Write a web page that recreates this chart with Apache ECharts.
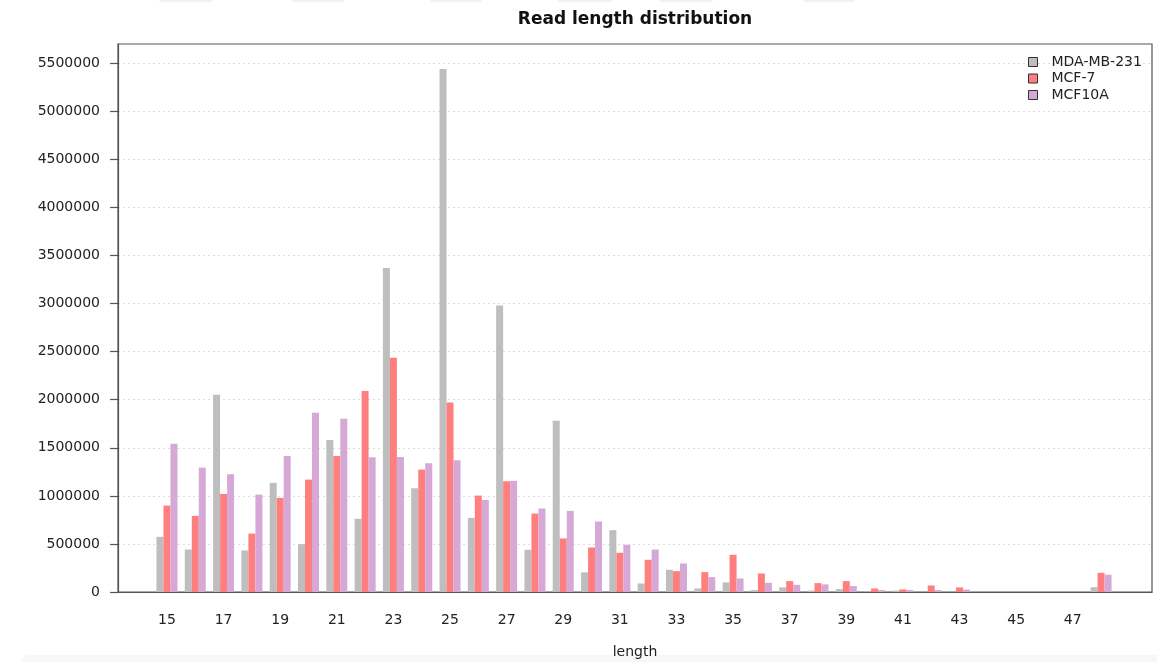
<!DOCTYPE html>
<html>
<head>
<meta charset="utf-8">
<title>Read length distribution</title>
<script src="https://cdn.jsdelivr.net/npm/echarts@6/dist/echarts.min.js"></script>
<style>
    html, body { margin: 0; padding: 0; background: #fff; }
    #chart { width: 1157px; height: 662px; }
</style>
</head>
<body>
<div id="chart"></div>
<script>
// read lengths 15..48
var lengths = [15, 16, 17, 18, 19, 20, 21, 22, 23, 24, 25, 26, 27, 28, 29, 30, 31,
               32, 33, 34, 35, 36, 37, 38, 39, 40, 41, 42, 43, 44, 45, 46, 47, 48];

var mdaMb231 = [574000, 442000, 2052000, 432000, 1135000, 498000, 1581000, 761000,
                3370000, 1079000, 5440000, 771000, 2980000, 439000, 1782000, 204000,
                643000, 89000, 231000, 37000, 100000, 20000, 48000, 15000, 30000,
                5000, 15000, 3000, 3000, 0, 0, 0, 0, 50000];

var mcf7 = [899000, 792000, 1020000, 608000, 979000, 1169000, 1415000, 2090000,
            2437000, 1273000, 1972000, 1003000, 1152000, 816000, 557000, 463000,
            408000, 335000, 217000, 207000, 387000, 193000, 113000, 92000, 113000,
            37000, 27000, 68000, 48000, 0, 0, 0, 5000, 200000];

var mcf10a = [1543000, 1294000, 1225000, 1013000, 1415000, 1865000, 1803000, 1401000,
              1405000, 1339000, 1370000, 958000, 1156000, 868000, 844000, 733000,
              491000, 442000, 297000, 155000, 141000, 96000, 75000, 79000, 62000,
              20000, 20000, 20000, 25000, 0, 0, 0, 0, 180000];

var xTicks = [15, 17, 19, 21, 23, 25, 27, 29, 31, 33, 35, 37, 39, 41, 43, 45, 47];
var yTicks = [0, 500000, 1000000, 1500000, 2000000, 2500000, 3000000, 3500000,
              4000000, 4500000, 5000000, 5500000];

var seriesNames = ['MDA-MB-231', 'MCF-7', 'MCF10A'];
var colors = ['#bebebe', '#ff7f7f', '#d5a8d5'];

function pairs(vals) {
    return lengths.map(function (len, i) { return [len, vals[i]]; });
}

var font = 'DejaVu Sans';
var chart = echarts.init(document.getElementById('chart'));

// faint tab shapes along the top edge and the grey strip at the bottom
var topTabs = [[159, 54], [292, 52], [430, 52], [557, 55], [659, 54], [803, 52]];
var graphics = topTabs.map(function (t) {
    return {
        type: 'rect', left: t[0], top: -2,
        shape: { width: t[1], height: 4, r: 2 },
        style: { fill: '#f1f1f1' }, silent: true
    };
});
graphics.push({
    type: 'rect', left: 22, top: 655,
    shape: { width: 1140, height: 12, r: [6, 0, 0, 0] },
    style: { fill: '#f7f7f7' }, silent: true, z: -1
});

var series = [mdaMb231, mcf7, mcf10a].map(function (vals, i) {
    return {
        name: seriesNames[i],
        type: 'bar',
        data: pairs(vals),
        barWidth: 7,
        barGap: '0%',
        itemStyle: { color: colors[i] }
    };
});

chart.setOption({
    animation: false,
    backgroundColor: '#fff',
    textStyle: { fontFamily: font },
    title: {
        text: 'Read length distribution',
        left: 630,
        textAlign: 'center',
        top: 6,
        textStyle: { fontFamily: font, fontSize: 17, fontWeight: 'bold', color: '#111' }
    },
    legend: {
        orient: 'vertical',
        left: 1023,
        top: 50,
        itemGap: 2.5,
        itemWidth: 9,
        itemHeight: 9,
        icon: 'rect',
        data: seriesNames,
        itemStyle: { borderColor: '#333', borderWidth: 1 },
        textStyle: { fontFamily: font, fontSize: 14, color: '#222', padding: [0, 0, 0, 9] }
    },
    grid: {
        left: 118,
        right: 5,
        top: 44,
        bottom: 70,
        outerBoundsMode: 'none',
        containLabel: false,
        show: true,
        borderColor: '#555',
        borderWidth: 1.2
    },
    xAxis: {
        type: 'value',
        min: 13.27,
        max: 49.8,
        name: 'length',
        nameLocation: 'middle',
        nameGap: 53,
        nameTextStyle: { fontFamily: font, fontSize: 14, color: '#222' },
        axisLine: { show: true, lineStyle: { color: '#555', width: 1.2 } },
        axisTick: { show: false },
        splitLine: { show: false },
        axisLabel: {
            customValues: xTicks,
            margin: 21,
            fontFamily: font,
            fontSize: 14,
            color: '#222'
        }
    },
    yAxis: {
        type: 'value',
        min: 0,
        max: 5700000,
        axisLine: { show: true, lineStyle: { color: '#555', width: 1.2 } },
        axisTick: { show: true, customValues: yTicks, length: 8, lineStyle: { color: '#555', width: 1.2 } },
        splitLine: { show: true, lineStyle: { color: '#dddddd', type: [2, 3], width: 1 } },
        axisLabel: {
            customValues: yTicks,
            margin: 18,
            fontFamily: font,
            fontSize: 14,
            color: '#222',
            formatter: function (v) { return String(v); }
        }
    },
    graphic: graphics,
    series: series
});
</script>
</body>
</html>
